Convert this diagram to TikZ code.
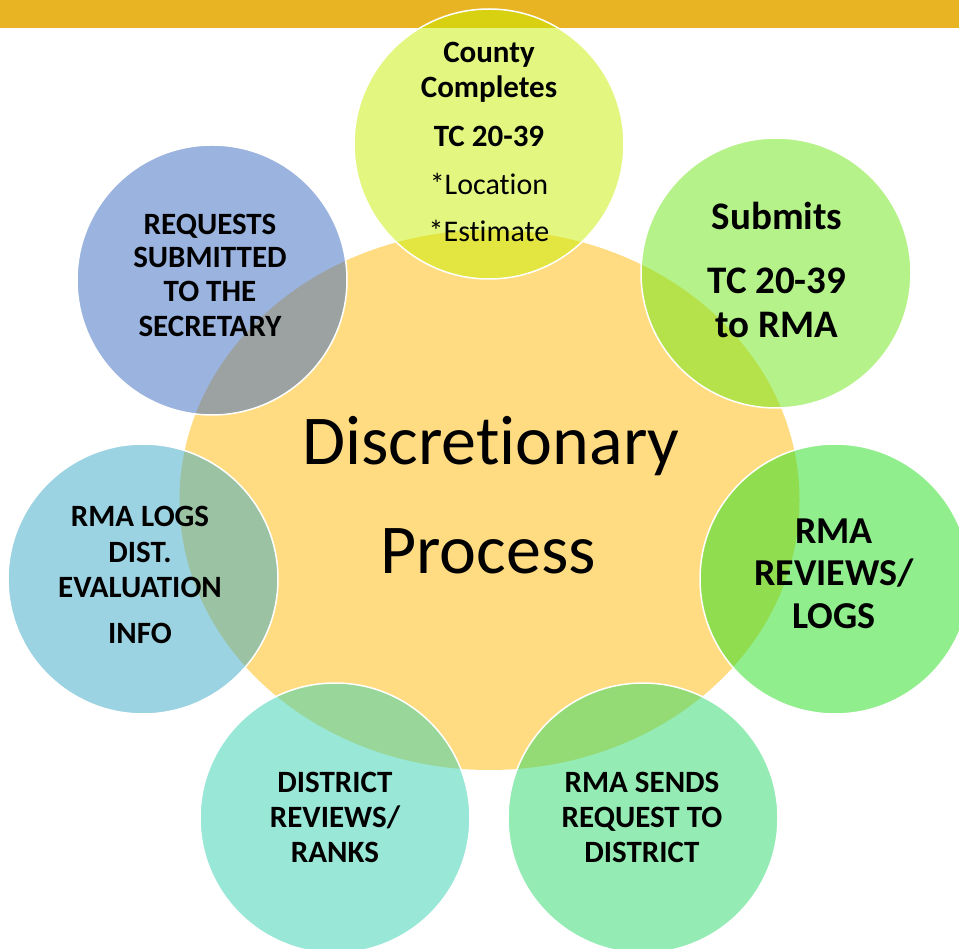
\documentclass[tikz,border=0pt]{standalone}
\usepackage{fontspec}
\setmainfont{Carlito}[Ligatures={TeX,NoCommon}]
\usetikzlibrary{shapes.geometric}
\definecolor{barc}{RGB}{232,180,36}
\definecolor{bigc}{RGB}{255,220,130}
\definecolor{cA}{RGB}{201,239,0}
\definecolor{cB}{RGB}{109,231,21}
\definecolor{cC}{RGB}{35,223,29}
\definecolor{cD}{RGB}{43,219,107}
\definecolor{cE}{RGB}{51,209,177}
\definecolor{cF}{RGB}{59,169,199}
\definecolor{cG}{RGB}{57,105,193}
\tikzset{
  bubble/.style={circle, minimum size=270pt, inner sep=0pt, draw=white, line width=1.5pt, fill opacity=0.5, draw opacity=1},
  lbl/.style={anchor=base, inner sep=0pt, text=black, font=\bfseries\fontsize{#1}{#1}\selectfont},
  rlbl/.style={anchor=base, inner sep=0pt, text=black, font=\fontsize{#1}{#1}\selectfont}
}
\begin{document}
\begin{tikzpicture}[x=1pt,y=-1pt]
\useasboundingbox (0,0) rectangle (959,949);
\fill[white] (0,0) rectangle (959,949);
\fill[barc] (0,0) rectangle (959,28);
\node[ellipse, minimum width=620pt, minimum height=540pt, inner sep=0pt, fill=bigc] (big) at (489.5,500) {};
\node[bubble, fill=cA] (n1) at (489,144) {};
\node[bubble, fill=cB] (n2) at (776,273) {};
\node[bubble, fill=cC] (n3) at (835,579) {};
\node[bubble, fill=cD] (n4) at (643,818) {};
\node[bubble, fill=cE] (n5) at (335,818) {};
\node[bubble, fill=cF] (n6) at (143,579) {};
\node[bubble, fill=cG] (n7) at (212,280) {};
% center
\node[rlbl=70] (c1) at (491,465) {Discret\kern0pt ionary};
\node[rlbl=70] (c2) at (488,573) {Process};
% top
\node[lbl=31] (a1) at (489,63) {County};
\node[lbl=31] (a2) at (489,98) {Completes};
\node[lbl=31] (a3) at (489,147) {TC 20-39};
\node[rlbl=30] (a4) at (489,195) {*Locat\kern0pt ion};
\node[rlbl=30] (a5) at (489,242) {*Est\kern0pt imate};
% top right
\node[lbl=39] (b1) at (777,230) {Submits};
\node[lbl=39] (b2) at (777,294) {TC 20-39};
\node[lbl=39] (b3) at (777,338) {to RMA};
% right
\node[lbl=38] (d1) at (834,543) {RMA};
\node[lbl=38] (d2) at (834,585) {REVIEWS/};
\node[lbl=38] (d3) at (834,628) {LOGS};
% bottom right
\node[lbl=31] (e1) at (642,792) {RMA SENDS};
\node[lbl=31] (e2) at (642,827) {REQUEST TO};
\node[lbl=31] (e3) at (642,862) {DISTRICT};
% bottom left
\node[lbl=31] (f1) at (335,792) {DISTRICT};
\node[lbl=31] (f2) at (335,827) {REVIEWS/};
\node[lbl=31] (f3) at (335,862) {RANKS};
% left
\node[lbl=31] (g1) at (140,526) {RMA LOGS};
\node[lbl=31] (g2) at (140,562) {DIST.};
\node[lbl=31] (g3) at (140,597) {EVALUATION};
\node[lbl=31] (g4) at (140,643) {INFO};
% top left
\node[lbl=31] (h1) at (210,235) {REQUESTS};
\node[lbl=31] (h2) at (210,268) {SUBMITTED};
\node[lbl=31] (h3) at (210,302) {TO THE};
\node[lbl=31] (h4) at (210,337) {SECRETARY};
\end{tikzpicture}
\end{document}
